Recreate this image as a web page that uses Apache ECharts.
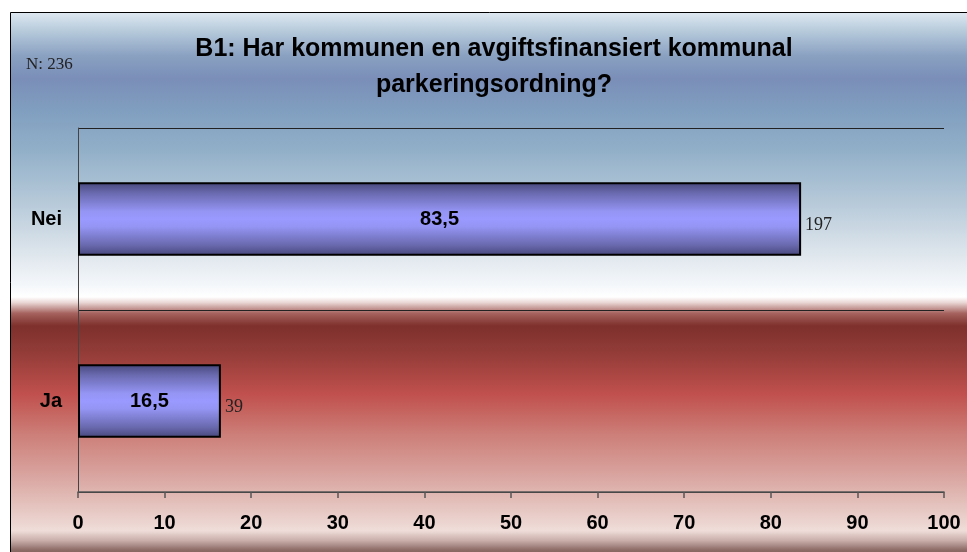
<!DOCTYPE html>
<html>
<head>
<meta charset="utf-8">
<script src="https://cdn.jsdelivr.net/npm/echarts@6/dist/echarts.min.js"></script>
<style>
html,body{margin:0;padding:0;background:#fff;}
#c{width:967px;height:552px;}
</style>
</head>
<body>
<div id="c"></div>
<script>
const categories = ['Ja', 'Nei'];
const percentValues = [16.5, 83.5];
const countValues = [39, 197];
const xTicks = [0, 10, 20, 30, 40, 50, 60, 70, 80, 90, 100];
const titleLines = ['B1: Har kommunen en avgiftsfinansiert kommunal', 'parkeringsordning?'];
const nText = 'N: 236';

const chart = echarts.init(document.getElementById('c'), null, {renderer: 'canvas'});

const bgGradient = new echarts.graphic.LinearGradient(0, 0, 0, 1, [
  {offset: 0.000, color: '#dfe9f1'},
  {offset: 0.035, color: '#b6cadb'},
  {offset: 0.080, color: '#8aa1c1'},
  {offset: 0.122, color: '#7a8eb8'},
  {offset: 0.180, color: '#809ebf'},
  {offset: 0.256, color: '#93b0c9'},
  {offset: 0.348, color: '#b6c9d9'},
  {offset: 0.440, color: '#dde5ec'},
  {offset: 0.500, color: '#f4f7fa'},
  {offset: 0.522, color: '#ffffff'},
  {offset: 0.532, color: '#ead8d6'},
  {offset: 0.552, color: '#a5625e'},
  {offset: 0.575, color: '#7e302c'},
  {offset: 0.620, color: '#913b37'},
  {offset: 0.700, color: '#c0504d'},
  {offset: 0.775, color: '#cd7f79'},
  {offset: 0.848, color: '#d9a49f'},
  {offset: 0.915, color: '#e7c9c4'},
  {offset: 0.950, color: '#efddd9'},
  {offset: 0.968, color: '#c9aeaa'},
  {offset: 0.985, color: '#8e6c68'},
  {offset: 1.000, color: '#745450'}
]);

const barGradient = new echarts.graphic.LinearGradient(0, 0, 0, 1, [
  {offset: 0, color: '#46467a'},
  {offset: 0.15, color: '#6a6ab0'},
  {offset: 0.4, color: '#9595f5'},
  {offset: 0.5, color: '#9999ff'},
  {offset: 0.6, color: '#9595f5'},
  {offset: 0.85, color: '#6a6ab0'},
  {offset: 1, color: '#46467a'}
]);

const option = {
  animation: false,
  backgroundColor: '#ffffff',
  graphic: [
    {
      type: 'rect', z: -10, silent: true,
      shape: {x: 10.5, y: 12.5, width: 970, height: 545},
      style: {fill: bgGradient, stroke: '#000', lineWidth: 1}
    },
    {
      type: 'text', z: 10,
      style: {
        text: titleLines.join('\n'),
        x: 494, y: 31,
        font: 'bold 25px "Liberation Sans", Arial, sans-serif',
        fill: '#000', textAlign: 'center', lineHeight: 36
      }
    },
    {
      type: 'text', z: 10,
      style: {
        text: nText, x: 26, y: 56,
        font: '17px "Liberation Serif", "Times New Roman", serif',
        fill: '#222'
      }
    }
  ],
  grid: {left: 78, right: 23, top: 128, bottom: 60, containLabel: false},
  xAxis: {
    type: 'value', min: 0, max: 100, interval: 10,
    axisLine: {show: true, lineStyle: {color: '#555', width: 1.5}},
    axisTick: {show: true, length: 6, lineStyle: {color: '#555', width: 1.5}},
    axisLabel: {
      color: '#000', fontWeight: 'bold', fontSize: 20, margin: 21,
      fontFamily: '"Liberation Sans", Arial, sans-serif',
      formatter: v => xTicks.indexOf(v) >= 0 ? String(v) : ''
    },
    splitLine: {show: false}
  },
  yAxis: {
    type: 'category', data: categories,
    axisLine: {show: true, lineStyle: {color: '#444', width: 1}},
    axisTick: {show: false},
    axisLabel: {
      color: '#000', fontWeight: 'bold', fontSize: 20, margin: 16,
      fontFamily: '"Liberation Sans", Arial, sans-serif'
    },
    splitLine: {show: true, lineStyle: {color: '#222', width: 1}}
  },
  series: [
    {
      type: 'bar', data: percentValues, barWidth: '40.5%', z: 3,
      itemStyle: {color: barGradient, borderColor: '#000', borderWidth: 2},
      label: {
        show: true, position: 'inside', color: '#000', fontWeight: 'bold', fontSize: 20,
        fontFamily: '"Liberation Sans", Arial, sans-serif',
        formatter: p => String(p.value).replace('.', ',')
      }
    },
    {
      type: 'bar', data: percentValues, barWidth: '40.5%', barGap: '-100%', z: 4,
      itemStyle: {color: 'transparent'},
      label: {
        show: true, position: 'right', distance: 4, offset: [0, 6], color: '#222', fontSize: 18,
        fontFamily: '"Liberation Serif", "Times New Roman", serif',
        formatter: p => String(countValues[p.dataIndex])
      }
    }
  ]
};
chart.setOption(option);
</script>
</body>
</html>
